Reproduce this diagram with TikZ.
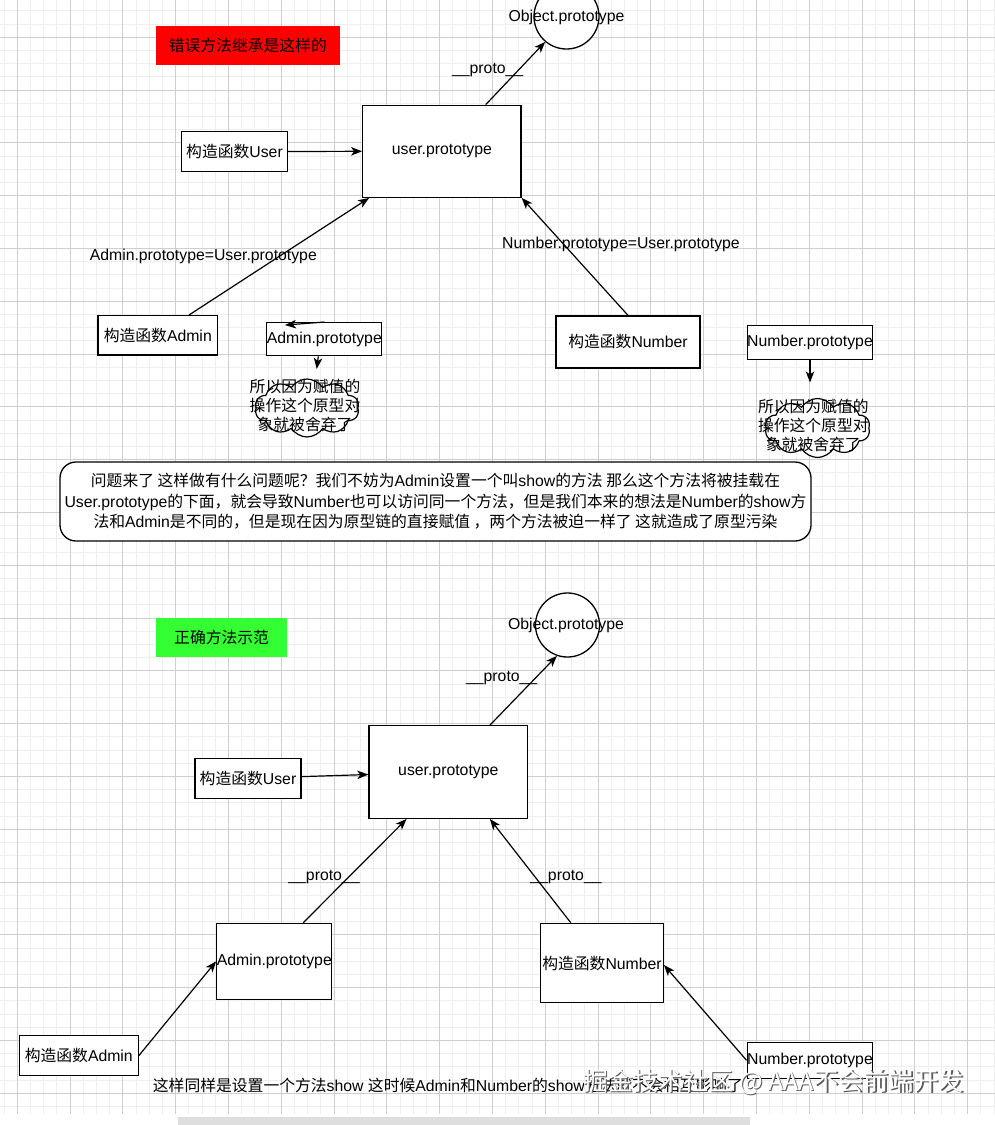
\documentclass[tikz,border=0pt]{standalone}
\usepackage{fontspec}
\setmainfont{Liberation Sans}
\newfontfamily\zhfont{Noto Sans CJK SC}
\newcommand\zh[1]{{\zhfont #1}}
\usetikzlibrary{arrows.meta,shapes.symbols,calc}
\definecolor{gridminor}{RGB}{238,238,238}
\definecolor{gridmajor}{RGB}{206,206,206}
\definecolor{redfill}{RGB}{255,0,0}
\definecolor{greenfill}{RGB}{51,255,51}
\definecolor{barcol}{RGB}{222,222,222}
\definecolor{wmshadow}{RGB}{90,90,90}
\newcommand\fs{\fontsize{15.8}{19}\selectfont}
\begin{document}
\begin{tikzpicture}[x=1pt,y=-1pt,
  box/.style={draw=black,line width=1.3pt,fill=white,inner sep=0pt,font=\fs,align=center},
  plaintext/.style={inner sep=0pt,font=\fs,align=center},
  arr/.style={line width=1.2pt,-{Stealth[length=11pt,width=8.5pt,inset=3pt]}},
  ball/.style={circle,draw=black,line width=1.3pt,fill=white,minimum size=65pt,inner sep=0pt},
  puff/.style={cloud,cloud puffs=10,cloud puff arc=115,draw=black,line width=1.2pt,fill=white,inner sep=0pt},
  title/.style={inner sep=0pt,font=\fs}]
% background and grid
\useasboundingbox (0,0) rectangle (995,1125);
\fill[white] (0,0) rectangle (995,1125);
\foreach \i in {0,...,75} \draw[gridminor,line width=1pt] ({4.1+13.2*\i},0) -- ({4.1+13.2*\i},1114);
\foreach \i in {0,...,83} \draw[gridminor,line width=1pt] (0,{10.8+13.2*\i}) -- (995,{10.8+13.2*\i});
\foreach \i in {0,...,18} \draw[gridmajor,line width=1pt] ({17.3+52.8*\i},0) -- ({17.3+52.8*\i},1114);
\foreach \i in {0,...,20} \draw[gridmajor,line width=1pt] (0,{37.2+52.8*\i}) -- (995,{37.2+52.8*\i});
\fill[barcol] (178,1117) rectangle (750,1125);

% ---------- top part ----------
\node[title,fill=redfill,minimum width=184.3pt,minimum height=39.3pt] (t1) at (247.8,45.6) {\zh{错误方法继承是这样的}};
\node[ball] (obj1) at (566.5,16.5) {};
\node[plaintext] (obj1t) at (566.5,17.3) {Object.prototype};
\node[box,minimum width=158.3pt,minimum height=92pt] (up1) at (441.9,151.3) {user.prototype};
\node[box,minimum width=105.6pt,minimum height=39.6pt] (cu1) at (234.5,151.5) {\zh{构造函数}User};
\node[box,minimum width=119.5pt,minimum height=39.3pt] (ca1) at (157.8,335.3) {\zh{构造函数}Admin};
\node[box,minimum width=114pt,minimum height=33pt] (ap1) at (324.3,339.2) {Admin.prototype};
\node[box,minimum width=144pt,minimum height=52pt] (cn1) at (628,342) {\zh{构造函数}Number};
\node[box,minimum width=114.6pt,minimum height=33.6pt] (np1) at (810,342.5) {Number.prototype};
\node[puff,minimum width=104pt,minimum height=58pt] (cl1) at (307,408) {};
\node[plaintext] (cl1t) at (305,405) {\zh{所以因为赋值的}\\\zh{操作这个原型对}\\\zh{象就被舍弃了}};
\node[puff,minimum width=105pt,minimum height=59pt] (cl2) at (817.5,428) {};
\node[plaintext] (cl2t) at (813.3,425.5) {\zh{所以因为赋值的}\\\zh{操作这个原型对}\\\zh{象就被舍弃了}};
\node[plaintext] (p1) at (487.7,70.5) {\_\_proto\_\_};
\node[plaintext] (l1) at (203.3,256.7) {Admin.prototype=User.prototype};
\node[plaintext] (l2) at (621,244) {Number.prototype=User.prototype};

\draw[arr] (cu1.east) -- (up1.west);
\draw[arr] ([xshift=43.8pt]up1.north) -- (obj1.230);
\draw[arr] (ca1) -- ([xshift=7pt]up1.south west);
\draw[arr] (cn1.north) -- (up1.south east);
\draw[arr] (ap1.north) -- ([xshift=-39.3pt,yshift=-3pt]ap1.north);
\draw[arr] ([xshift=-6pt]ap1.south) -- ([xshift=-7.6pt,yshift=-12.6pt]ap1.south);
\draw[arr] (np1.south) -- ([yshift=-22.5pt]np1.south);

\node[box,rounded corners=16pt,minimum width=751pt,minimum height=79pt,font=\fontsize{15.8}{20.5}\selectfont] (q) at (435.5,501.5)
 {\zh{问题来了 这样做有什么问题呢？我们不妨为}Admin\zh{设置一个叫}show\zh{的方法 那么这个方法将被挂载在}\\
  User.prototype\zh{的下面，就会导致}Number\zh{也可以访问同一个方法，但是我们本来的想法是}Number\zh{的}show\zh{方}\\
  \zh{法和}Admin\zh{是不同的，但是现在因为原型链的直接赋值 ，两个方法被迫一样了 这就造成了原型污染}};

% ---------- bottom part ----------
\node[title,fill=greenfill,minimum width=131.3pt,minimum height=39pt] (t2) at (221.6,637.2) {\zh{正确方法示范}};
\node[ball,minimum size=64pt] (obj2) at (567.5,625) {};
\node[plaintext] (obj2t) at (566,625.7) {Object.prototype};
\node[box,minimum width=158.7pt,minimum height=92.6pt] (up2) at (448.3,772) {user.prototype};
\node[box,minimum width=106pt,minimum height=40pt] (cu2) at (248,778.3) {\zh{构造函数}User};
\node[box,minimum width=114pt,minimum height=76pt] (ap2) at (274.3,961.3) {Admin.prototype};
\node[box,minimum width=122.6pt,minimum height=79.4pt] (cn2) at (602,963) {\zh{构造函数}Number};
\node[box,minimum width=119pt,minimum height=39.6pt] (ca2) at (78.8,1055.5) {\zh{构造函数}Admin};
\node[box,minimum width=113.4pt,minimum height=36pt] (np2) at (810,1060.3) {Number.prototype};
\node[plaintext] (p2) at (501.7,677.7) {\_\_proto\_\_};
\node[plaintext] (p3) at (324,877.3) {\_\_proto\_\_};
\node[plaintext] (p4) at (566,877.3) {\_\_proto\_\_};

\draw[arr] (cu2) -- (up2);
\draw[arr] ([xshift=41.7pt]up2.north) -- (obj2.251);
\draw[arr] ([xshift=29pt]ap2.north) -- ([xshift=38.3pt]up2.south west);
\draw[arr] ([xshift=-31.3pt]cn2.north) -- ([xshift=-38.4pt]up2.south east);
\draw[arr] (ca2.east) -- (ap2.west);
\draw[arr] (np2.west) -- ([yshift=-2pt]cn2.east);

\node[plaintext,anchor=west] (bt) at (152.7,1085) {\zh{这样同样是设置一个方法}show \zh{这时候}Admin\zh{和}Number\zh{的}show\zh{方法就不会相互影响了}};
\node[inner sep=0pt,font=\zhfont\fontsize{25}{25}\selectfont,text=wmshadow] (wms) at (775,1083) {掘金技术社区 @ AAA不会前端开发};
\node[inner sep=0pt,font=\zhfont\fontsize{25}{25}\selectfont,text=white] (wm) at (773.8,1081.8) {掘金技术社区 @ AAA不会前端开发};
\end{tikzpicture}
\end{document}
